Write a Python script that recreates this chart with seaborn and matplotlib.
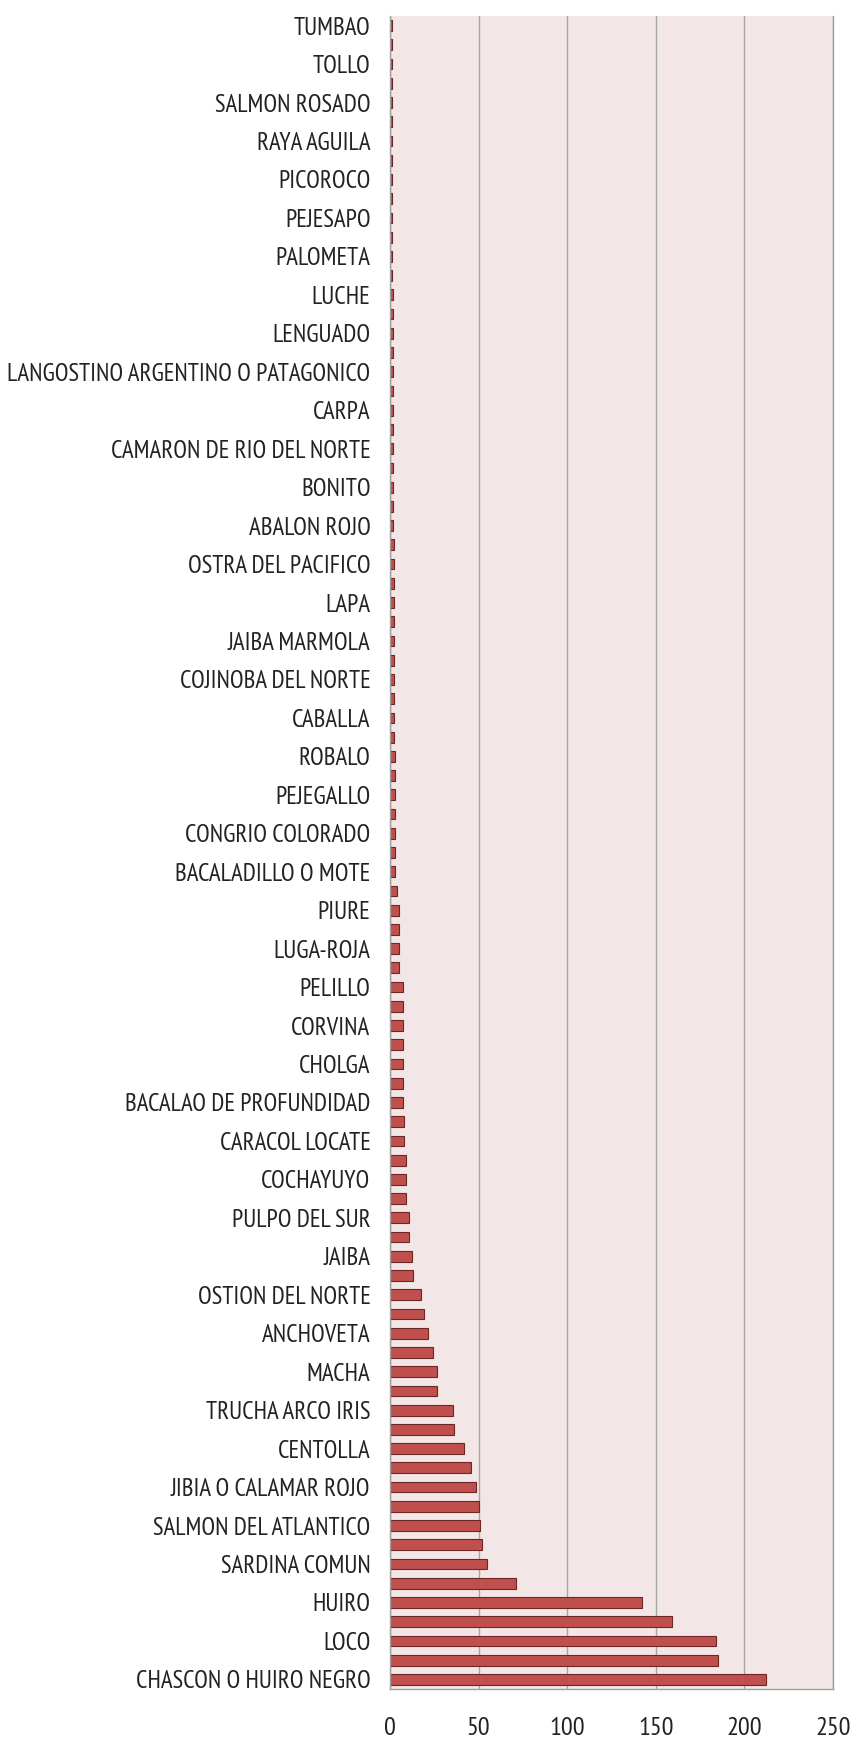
import matplotlib
matplotlib.use("Agg")
import matplotlib.pyplot as plt
import seaborn as sns
import pandas as pd

# Shown labels (every other bar), bottom to top
shown_labels = [
    "CHASCON O HUIRO NEGRO", "LOCO", "HUIRO", "SARDINA COMUN", "SALMON DEL ATLANTICO",
    "JIBIA O CALAMAR ROJO", "CENTOLLA", "TRUCHA ARCO IRIS", "MACHA", "ANCHOVETA",
    "OSTION DEL NORTE", "JAIBA", "PULPO DEL SUR", "COCHAYUYO", "CARACOL LOCATE",
    "BACALAO DE PROFUNDIDAD", "CHOLGA", "CORVINA", "PELILLO", "LUGA-ROJA", "PIURE",
    "BACALADILLO O MOTE", "CONGRIO COLORADO", "PEJEGALLO", "ROBALO", "CABALLA",
    "COJINOBA DEL NORTE", "JAIBA MARMOLA", "LAPA", "OSTRA DEL PACIFICO", "ABALON ROJO",
    "BONITO", "CAMARON DE RIO DEL NORTE", "CARPA", "LANGOSTINO ARGENTINO O PATAGONICO",
    "LENGUADO", "LUCHE", "PALOMETA", "PEJESAPO", "PICOROCO", "RAYA AGUILA",
    "SALMON ROSADO", "TOLLO", "TUMBAO",
]

# All bar values, bottom (largest) to top
values = [
    212, 185, 184, 159, 142, 71, 55, 52, 51, 50,
    48.5, 45.5, 42, 36, 35.5, 26.5, 26.5, 24.5, 21.5, 19,
    17.5, 13, 12.5, 10.5, 10.5, 9.2, 9.2, 9, 8, 8,
    7.5, 7.5, 7.5, 7.5, 7.5, 7.5, 7.5, 5.3, 5.3, 5.3,
    5.3, 4, 3, 3, 3, 3, 3, 3, 3, 2.3,
    2.3, 2.3, 2.3, 2.3, 2.3, 2.3, 2.3, 2.3, 2.3, 2.3,
    1.6, 1.6, 1.6, 1.6, 1.6, 1.6, 1.6, 1.6, 1.6, 1.6,
    1.6, 1.6, 1.6, 1.3, 1.3, 1.3, 1.3, 1.3, 1.3, 1.3,
    1.3, 1.3, 1.3, 1.3, 1.3, 1.3, 1.3,
]

x_ticks = [0, 50, 100, 150, 200, 250]

# Categories: labelled species at even positions, unlabelled bars in between
categories = []
for i in range(len(values)):
    if i % 2 == 0:
        categories.append(shown_labels[i // 2])
    else:
        categories.append(f"_sin_etiqueta_{i}")

df = pd.DataFrame({"especie": categories, "valor": values})
order = categories[::-1]  # top to bottom

sns.set_style("white")
plt.rcParams["font.family"] = ["PT Sans Narrow", "Roboto Condensed", "Archivo Narrow",
                               "Fira Sans Condensed", "Liberation Sans Narrow",
                               "Carlito", "DejaVu Sans"]

fig = plt.figure(figsize=(8.58, 17.42), dpi=100)
ax = fig.add_axes([390 / 858, 53 / 1742, (833 - 390) / 858, (1726 - 53) / 1742])
ax.set_facecolor("#F2E6E6")

sns.barplot(data=df, x="valor", y="especie", order=order, orient="h",
            color="#C0504D", saturation=1, width=0.56,
            edgecolor="#6E2624", linewidth=0.8, ax=ax)

ax.set_xlim(0, 250)
ax.set_xticks(x_ticks)
ax.set_xticklabels([str(t) for t in x_ticks], fontsize=19, color="#222222")
ax.tick_params(axis="x", length=0, pad=20)

label_pos = [i for i, c in enumerate(order) if not c.startswith("_sin_etiqueta_")]
ax.set_yticks(label_pos)
ax.set_yticklabels([order[i] for i in label_pos], fontsize=17.8, color="#222222")
ax.tick_params(axis="y", length=0, pad=14)

ax.set_xlabel("")
ax.set_ylabel("")
ax.xaxis.grid(True, color="#A6A6A6", linewidth=1)
ax.yaxis.grid(False)
ax.set_axisbelow(True)

for side in ["left", "right", "bottom"]:
    ax.spines[side].set_visible(True)
    ax.spines[side].set_color("#A0A0A0")
    ax.spines[side].set_linewidth(1)
ax.spines["top"].set_visible(False)

fig.savefig("out.png", dpi=100, facecolor="white")
